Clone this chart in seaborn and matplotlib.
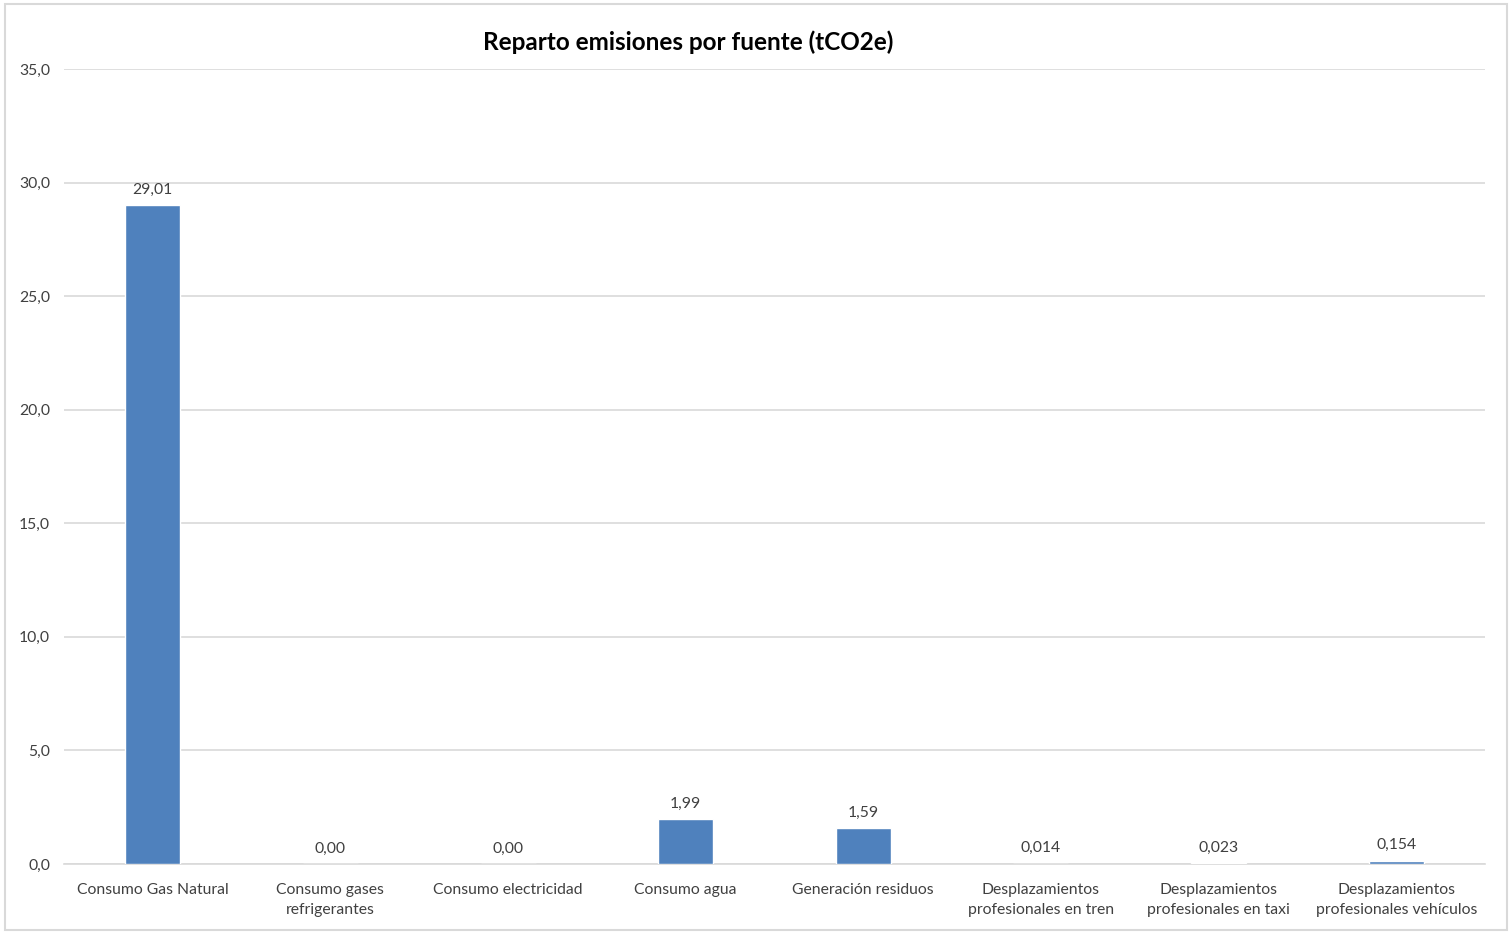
import matplotlib
matplotlib.use("Agg")
import matplotlib.pyplot as plt
import seaborn as sns
import pandas as pd
from matplotlib.patches import Rectangle

categories = [
    "Consumo Gas Natural",
    "Consumo gases\nrefrigerantes",
    "Consumo electricidad",
    "Consumo agua",
    "Generación residuos",
    "Desplazamientos\nprofesionales en tren",
    "Desplazamientos\nprofesionales en taxi",
    "Desplazamientos\nprofesionales vehículos",
]
values = [29.01, 0.0, 0.0, 1.99, 1.59, 0.014, 0.023, 0.154]
value_labels = ["29,01", "0,00", "0,00", "1,99", "1,59", "0,014", "0,023", "0,154"]
y_ticks = [0, 5, 10, 15, 20, 25, 30, 35]
y_tick_labels = ["0,0", "5,0", "10,0", "15,0", "20,0", "25,0", "30,0", "35,0"]
title = "Reparto emisiones por fuente (tCO2e)"

sns.set_theme(style="white")
plt.rcParams['font.family'] = ['Lato', 'DejaVu Sans']

df = pd.DataFrame({"cat": categories, "val": values})

fig = plt.figure(figsize=(15.11, 9.33), dpi=100)
ax = fig.add_axes([64/1511, (933-864)/933, (1485-64)/1511, (864-69)/933])

sns.barplot(data=df, x="cat", y="val", color="#4F81BD", width=0.31,
            saturation=1, ax=ax, zorder=3)

ax.set_ylim(0, 35)
ax.set_xlim(-0.5, len(categories) - 0.5)
ax.set_yticks(y_ticks)
ax.set_yticklabels(y_tick_labels, fontsize=11.3, color="#404040")
ax.tick_params(axis="x", labelsize=11.3, colors="#404040", length=0, pad=14)
ax.tick_params(axis="y", length=0, pad=10)
ax.set_xlabel("")
ax.set_ylabel("")
for lab in ax.get_xticklabels():
    lab.set_linespacing(1.55)
ax.yaxis.grid(True, color="#D9D9D9", linewidth=1.2, zorder=0)
for s in ["top", "right", "left"]:
    ax.spines[s].set_visible(False)
ax.spines["bottom"].set_color("#D9D9D9")
ax.spines["bottom"].set_linewidth(1.2)

for i, (v, lab) in enumerate(zip(values, value_labels)):
    ax.annotate(lab, (i, v), xytext=(0, 6), textcoords="offset points",
                ha="center", va="bottom", fontsize=11.3, color="#404040")

fig.text(688/1511, 1 - 42/933, title, ha="center", va="center",
         fontsize=17.5, fontweight="bold", color="black")

fig.patches.append(Rectangle((5/1511, 3/933), 1502/1511, 926/933,
                             transform=fig.transFigure, fill=False,
                             edgecolor="#D9D9D9", linewidth=1.5))

fig.savefig("out.png", dpi=100)
